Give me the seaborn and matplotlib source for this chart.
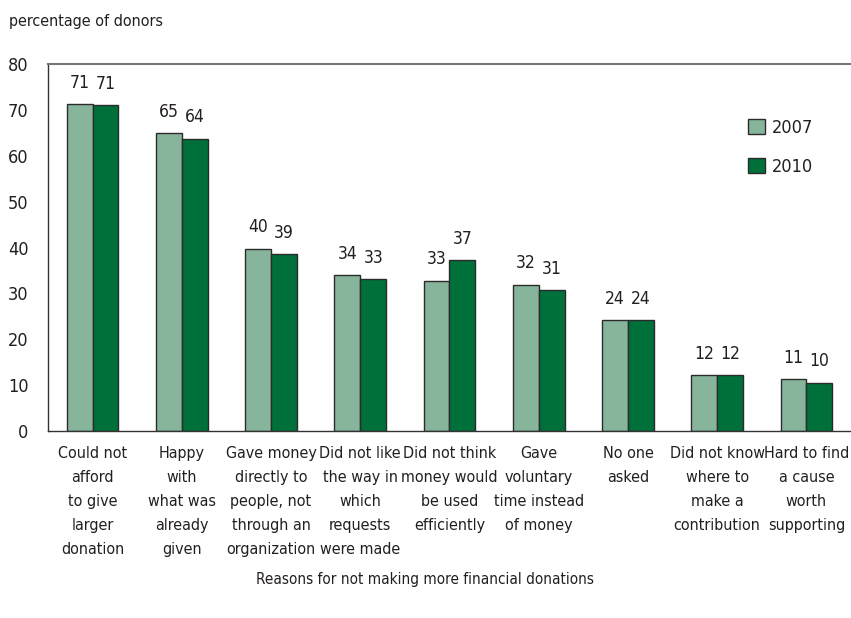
import matplotlib
matplotlib.use("Agg")
import matplotlib.pyplot as plt
import pandas as pd
import seaborn as sns
from matplotlib.patches import Patch

# ---------------------------
# data
# ---------------------------

reasons = [
    "Could not\nafford\nto give\nlarger\ndonation",
    "Happy\nwith\nwhat was\nalready\ngiven",
    "Gave money\ndirectly to\npeople, not\nthrough an\norganization",
    "Did not like\nthe way in\nwhich\nrequests\nwere made",
    "Did not think\nmoney would\nbe used\nefficiently",
    "Gave\nvoluntary\ntime instead\nof money",
    "No one\nasked",
    "Did not know\nwhere to\nmake a\ncontribution",
    "Hard to find\na cause\nworth\nsupporting",
]

years = ["2007", "2010"]

values_2007 = [71.2, 64.9, 39.7, 34.0, 32.7, 31.9, 24.1, 12.1, 11.3]
values_2010 = [71.0, 63.7, 38.5, 33.1, 37.2, 30.7, 24.1, 12.1, 10.5]

labels_2007 = ["71", "65", "40", "34", "33", "32", "24", "12", "11"]
labels_2010 = ["71", "64", "39", "33", "37", "31", "24", "12", "10"]

colors = {"2007": "#86b59b", "2010": "#00703a"}

df = pd.DataFrame({
    "reason": reasons * 2,
    "pct": values_2007 + values_2010,
    "year": ["2007"] * len(reasons) + ["2010"] * len(reasons),
})

# ---------------------------
# style
# ---------------------------

sns.set_style("white")
plt.rcParams["font.family"] = ["DejaVu Sans"]
plt.rcParams["font.stretch"] = "condensed"
plt.rcParams["font.size"] = 12
text_color = "#231f20"

fig = plt.figure(figsize=(8.51, 6.18), dpi=100)
ax = fig.add_axes([0.0564, 0.3026, 0.9436, 0.5938])

sns.barplot(
    data=df,
    x="reason",
    y="pct",
    hue="year",
    hue_order=years,
    palette=colors,
    width=0.58,
    edgecolor="#2b2b2b",
    linewidth=1.0,
    saturation=1,
    legend=False,
    ax=ax,
)

for container, labels in zip(ax.containers, [labels_2007, labels_2010]):
    ax.bar_label(container, labels=labels, padding=9,
                 fontsize=12.5, color=text_color)

ax.set_xlim(-0.5, 8.5)
ax.set_ylim(0, 80)
ax.set_yticks(range(0, 81, 10))
ax.set_xlabel("")
ax.set_ylabel("")

ax.tick_params(axis="y", direction="in", length=6, width=1,
               color="#444444", pad=14, labelsize=13, labelcolor=text_color)
ax.tick_params(axis="x", length=0, pad=11, labelsize=11.5, labelcolor=text_color)
for lbl in ax.get_xticklabels():
    lbl.set_linespacing(1.75)
    lbl.set_verticalalignment("top")

for side in ["left", "bottom", "top"]:
    ax.spines[side].set_visible(True)
    ax.spines[side].set_color("#333333")
    ax.spines[side].set_linewidth(1.0)
ax.spines["top"].set_color("#777777")
ax.spines["top"].set_linewidth(1.5)
ax.spines["right"].set_visible(False)

# legend
handles = [
    Patch(facecolor=colors[y], edgecolor="#2b2b2b", linewidth=1.0, label=y)
    for y in years
]
leg = ax.legend(
    handles=handles,
    loc="upper left",
    bbox_to_anchor=(0.852, 0.895),
    frameon=False,
    handlelength=0.9,
    handleheight=0.9,
    handletextpad=0.4,
    labelspacing=1.15,
    fontsize=13,
)
for t in leg.get_texts():
    t.set_color(text_color)

fig.text(0.011, 0.965, "percentage of donors", fontsize=11.5,
         color=text_color, ha="left", va="center")
fig.text(0.5, 0.063, "Reasons for not making more financial donations",
         fontsize=11, color=text_color, ha="center", va="center")

plt.savefig("out.png", dpi=100)
plt.close()
